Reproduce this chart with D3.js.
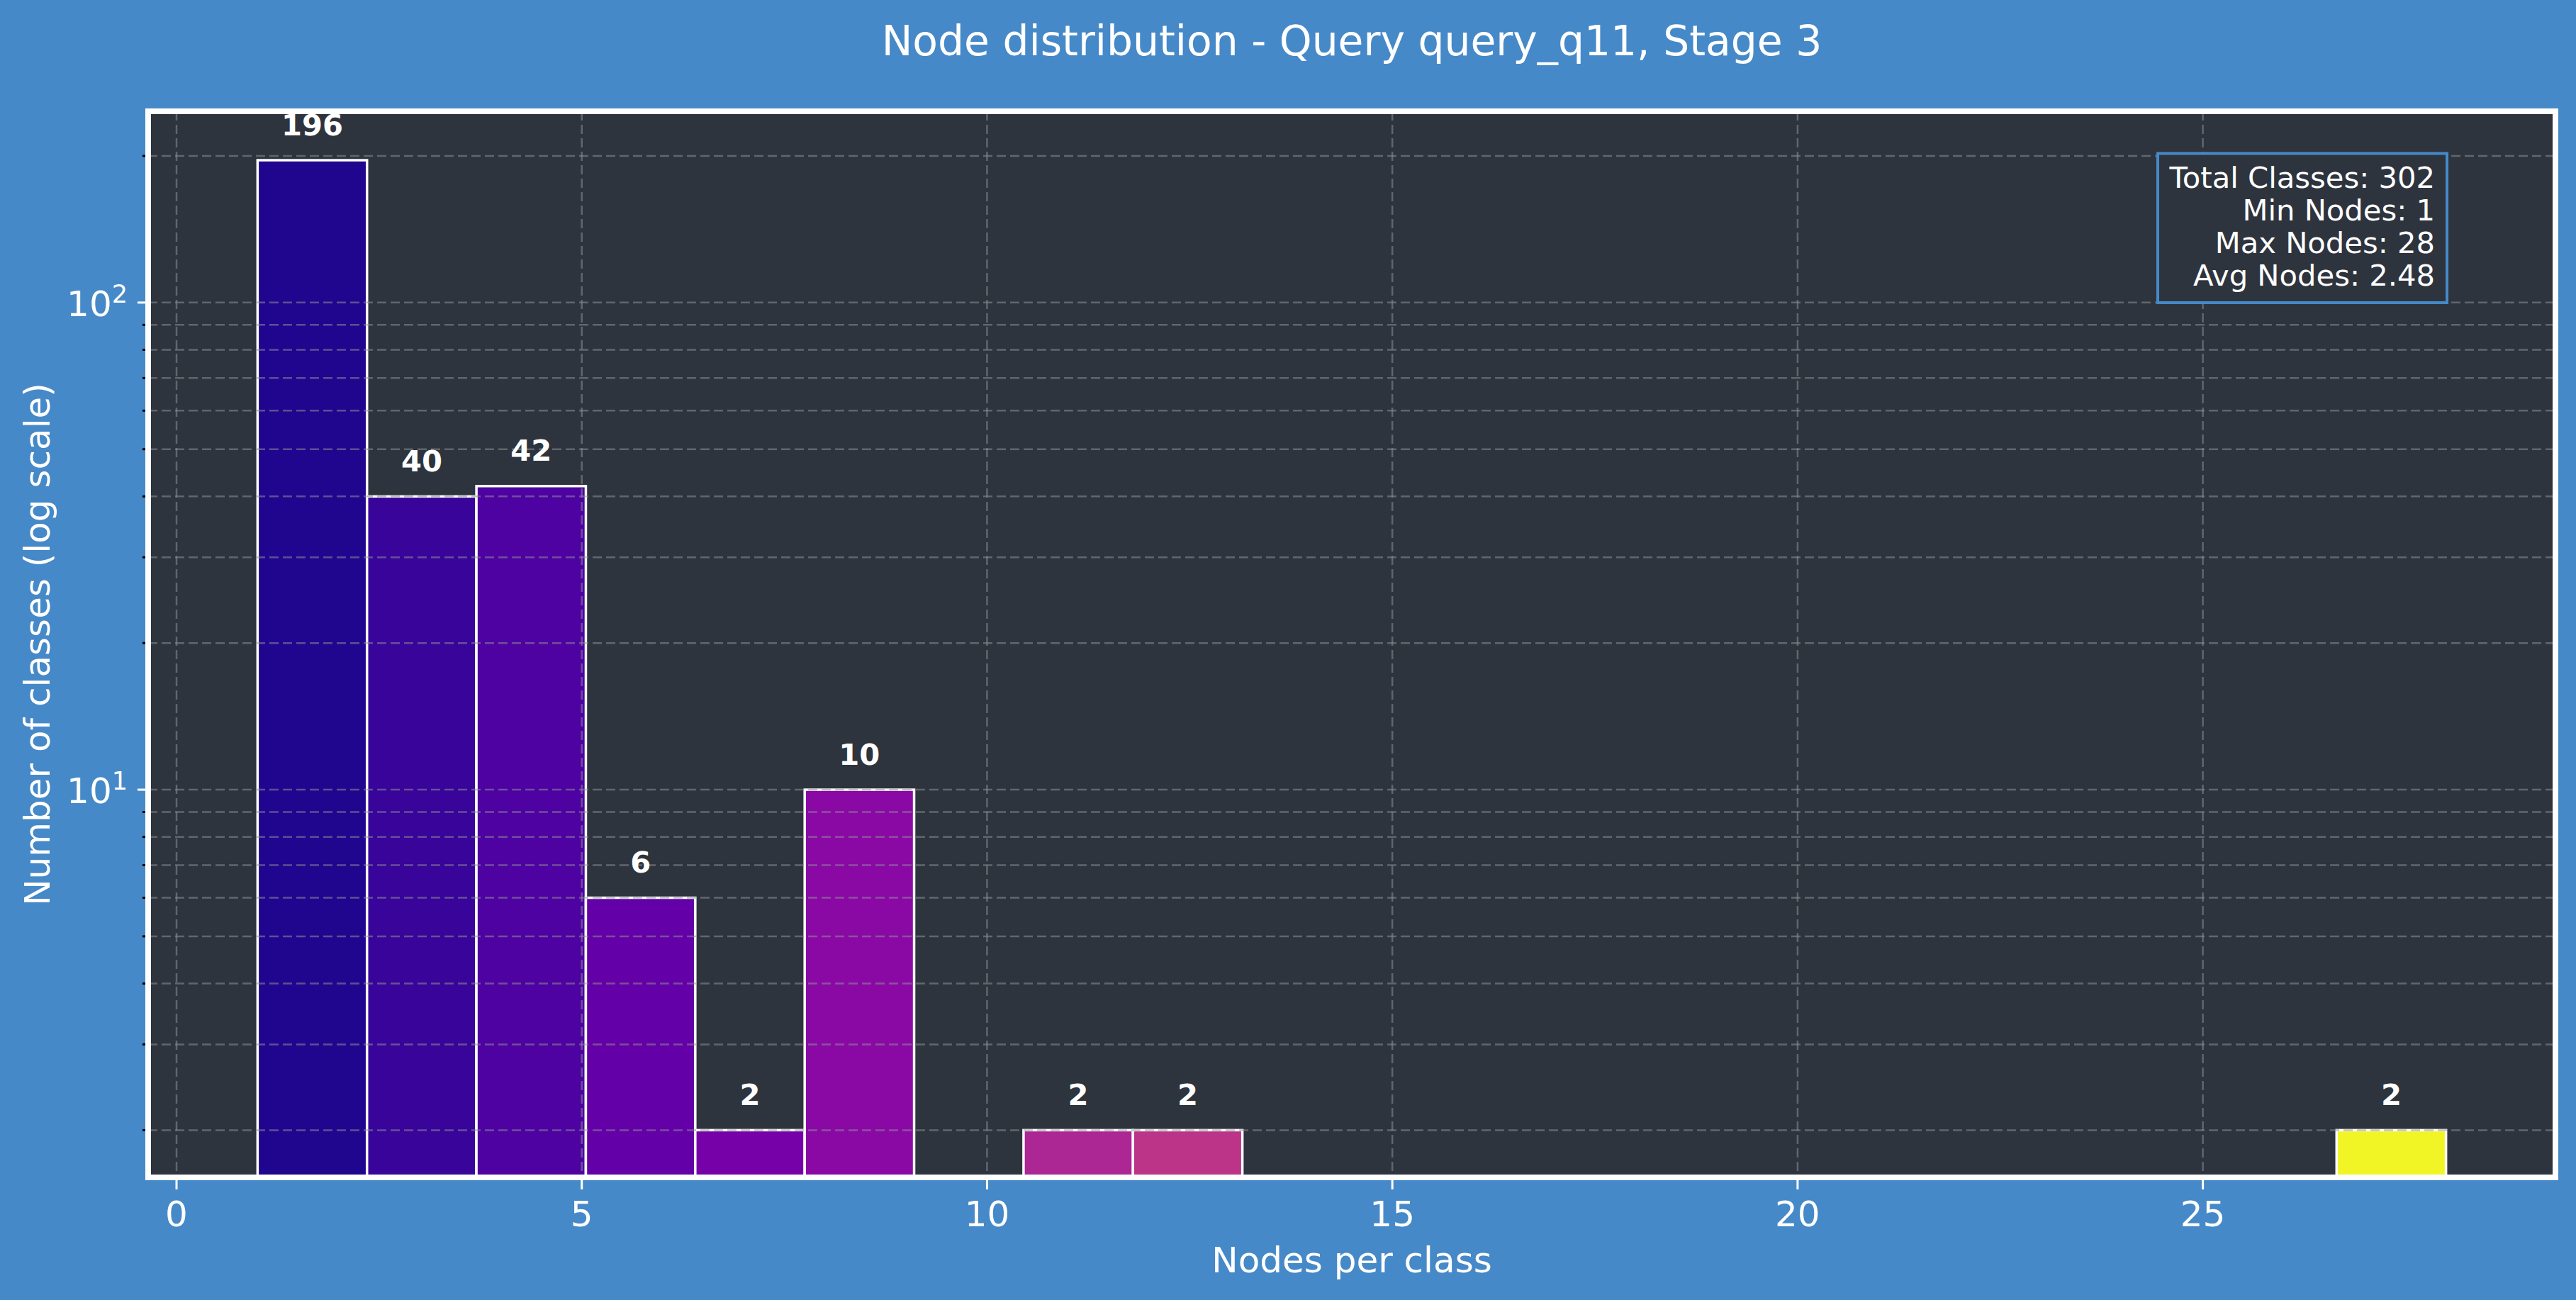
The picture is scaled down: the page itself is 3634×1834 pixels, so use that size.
<!DOCTYPE html>
<html>
<head>
<meta charset="utf-8">
<script src="https://cdn.jsdelivr.net/npm/d3@7"></script>
<style>
  body { margin: 0; background: #4689c8; }
  svg { display: block; font-family: "DejaVu Sans", sans-serif; }
</style>
</head>
<body>
<div id="chart"></div>
<script>
// histogram bins (nodes per class) and counts
var binEdges = [1, 2.35, 3.7, 5.05, 6.4, 7.75, 9.1, 10.45, 11.8, 13.15, 14.5,
                15.85, 17.2, 18.55, 19.9, 21.25, 22.6, 23.95, 25.3, 26.65, 28];
var binCounts = [196, 40, 42, 6, 2, 10, 0, 2, 2, 0, 0, 0, 0, 0, 0, 0, 0, 0, 0, 2];
var xTicks = [0, 5, 10, 15, 20, 25];
var yMajor = [10, 100];
var yMinor = [2, 3, 4, 5, 6, 7, 8, 9, 20, 30, 40, 50, 60, 70, 80, 90, 200];
var statsLines = ["Total Classes: 302", "Min Nodes: 1", "Max Nodes: 28", "Avg Nodes: 2.48"];
var title = "Node distribution - Query query_q11, Stage 3";

var width = 3634, height = 1834;
var plotLeft = 209, plotRight = 3605, plotTop = 157, plotBottom = 1661;

var svg = d3.select("#chart")
            .append("svg")
            .attr("width", width)
            .attr("height", height);

svg.append("rect")
    .attr("width", width)
    .attr("height", height)
    .attr("fill", "#4689c8");

var x = d3.scaleLinear().domain([-0.35, 29.35]).range([plotLeft, plotRight]);
var y = d3.scaleLog().domain([1.6, 247]).range([plotBottom, plotTop]);

// axes background
svg.append("rect")
    .attr("x", plotLeft).attr("y", plotTop)
    .attr("width", plotRight - plotLeft).attr("height", plotBottom - plotTop)
    .attr("fill", "#2e343d");

var bins = binCounts.map(function(c, i) {
    return { x0: binEdges[i], x1: binEdges[i + 1], count: c, idx: i };
}).filter(function(d) { return d.count > 0; });

// bar colour runs along the plasma map by bin index
function barColor(i) {
    var t = i / (binCounts.length - 1);
    return d3.interpolatePlasma(0.03 + 0.96 * t);
}

// bars
svg.append("g").selectAll("rect")
    .data(bins)
    .enter()
    .append("rect")
    .attr("x", function(d) { return x(d.x0); })
    .attr("width", function(d) { return x(d.x1) - x(d.x0); })
    .attr("y", function(d) { return y(d.count); })
    .attr("height", function(d) { return plotBottom - y(d.count); })
    .attr("fill", function(d) { return barColor(d.idx); })
    .attr("stroke", "white")
    .attr("stroke-width", 3.5);

// grid (drawn over the bars, like matplotlib)
var grid = svg.append("g")
    .attr("stroke", "#8c8f94")
    .attr("stroke-opacity", 0.55)
    .attr("stroke-width", 2.5)
    .attr("stroke-dasharray", "13,6");

grid.selectAll("line.h")
    .data(yMajor.concat(yMinor))
    .enter()
    .append("line")
    .attr("x1", plotLeft).attr("x2", plotRight)
    .attr("y1", function(d) { return y(d); })
    .attr("y2", function(d) { return y(d); });

grid.selectAll("line.v")
    .data(xTicks)
    .enter()
    .append("line")
    .attr("y1", plotTop).attr("y2", plotBottom)
    .attr("x1", function(d) { return x(d); })
    .attr("x2", function(d) { return x(d); });

// count labels above bars
svg.append("g").selectAll("text")
    .data(bins)
    .enter()
    .append("text")
    .text(function(d) { return d.count; })
    .attr("x", function(d) { return (x(d.x0) + x(d.x1)) / 2; })
    .attr("y", function(d) { return y(d.count * 1.1) - 7; })
    .attr("text-anchor", "middle")
    .attr("font-size", "41.7px")
    .attr("font-weight", "bold")
    .attr("fill", "white");

// frame
svg.append("rect")
    .attr("x", plotLeft).attr("y", plotTop)
    .attr("width", plotRight - plotLeft).attr("height", plotBottom - plotTop)
    .attr("fill", "none")
    .attr("stroke", "white")
    .attr("stroke-width", 8);

// x ticks and labels
var xt = svg.append("g").selectAll("g")
    .data(xTicks)
    .enter()
    .append("g");
xt.append("line")
    .attr("x1", function(d) { return x(d); })
    .attr("x2", function(d) { return x(d); })
    .attr("y1", plotBottom + 4).attr("y2", plotBottom + 17)
    .attr("stroke", "white").attr("stroke-width", 3);
xt.append("text")
    .text(function(d) { return d; })
    .attr("x", function(d) { return x(d); })
    .attr("y", 1730)
    .attr("text-anchor", "middle")
    .attr("font-size", "50px")
    .attr("fill", "white");

// y minor ticks (left in default black)
svg.append("g").selectAll("line")
    .data(yMinor)
    .enter()
    .append("line")
    .attr("x1", plotLeft - 8).attr("x2", plotLeft - 4)
    .attr("y1", function(d) { return y(d); })
    .attr("y2", function(d) { return y(d); })
    .attr("stroke", "black").attr("stroke-width", 3);

// y major ticks and labels
var yt = svg.append("g").selectAll("g")
    .data(yMajor)
    .enter()
    .append("g");
yt.append("line")
    .attr("x1", plotLeft - 15).attr("x2", plotLeft - 4)
    .attr("y1", function(d) { return y(d); })
    .attr("y2", function(d) { return y(d); })
    .attr("stroke", "white").attr("stroke-width", 3);
var ytl = yt.append("text")
    .attr("x", 180)
    .attr("y", function(d) { return y(d) + 19; })
    .attr("text-anchor", "end")
    .attr("fill", "white")
    .attr("font-size", "50px");
ytl.append("tspan").text("10");
ytl.append("tspan")
    .text(function(d) { return Math.round(Math.log10(d)); })
    .attr("font-size", "35px")
    .attr("dy", -19);

// axis labels
svg.append("text")
    .text("Nodes per class")
    .attr("x", (plotLeft + plotRight) / 2)
    .attr("y", 1795)
    .attr("text-anchor", "middle")
    .attr("font-size", "50px")
    .attr("fill", "white");

svg.append("text")
    .text("Number of classes (log scale)")
    .attr("transform", "translate(70," + ((plotTop + plotBottom) / 2) + ") rotate(-90)")
    .attr("text-anchor", "middle")
    .attr("font-size", "50px")
    .attr("fill", "white");

// title
svg.append("text")
    .text(title)
    .attr("x", (plotLeft + plotRight) / 2)
    .attr("y", 78)
    .attr("text-anchor", "middle")
    .attr("font-size", "58.3px")
    .attr("fill", "white");

// stats box
svg.append("rect")
    .attr("x", 3044).attr("y", 216.5)
    .attr("width", 408).attr("height", 210.5)
    .attr("fill", "#2e343d")
    .attr("stroke", "#4689c8")
    .attr("stroke-width", 4);

svg.append("g").selectAll("text")
    .data(statsLines)
    .enter()
    .append("text")
    .text(function(d) { return d; })
    .attr("x", 3435)
    .attr("y", function(d, i) { return 265 + i * 46; })
    .attr("text-anchor", "end")
    .attr("font-size", "41.7px")
    .attr("fill", "white");
</script>
</body>
</html>
